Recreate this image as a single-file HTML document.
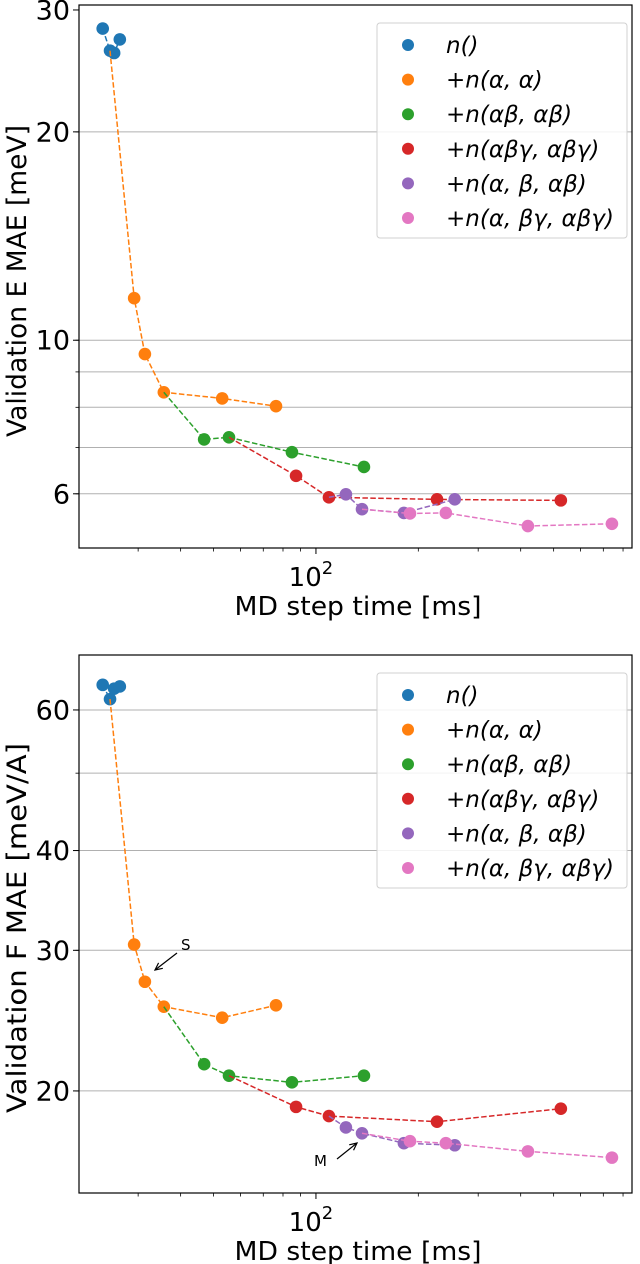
<!DOCTYPE html>
<html><head><meta charset="utf-8"><style>
html,body{margin:0;padding:0;background:#fff;}
svg{display:block;font-family:"DejaVu Sans","Liberation Sans",sans-serif;}
</style></head><body>
<svg id="chart" width="640" height="1264" viewBox="0 0 640 1264" xmlns="http://www.w3.org/2000/svg"></svg>
<script>
// Series names and colors
const seriesNames = ["n()", "+n(α, α)", "+n(αβ, αβ)", "+n(αβγ, αβγ)", "+n(α, β, αβ)", "+n(α, βγ, αβγ)"];
const seriesColors = ["#1f77b4", "#ff7f0e", "#2ca02c", "#d62728", "#9467bd", "#e377c2"];
// MD step time (ms) per series
const xBlue = [23.6, 24.8, 25.5, 26.5];
const xOrange = [24.8, 29.2, 31.4, 35.7, 53.0, 76.3];
const xGreen = [35.7, 46.9, 55.5, 85.0, 138.4];
const xRed = [55.5, 87.4, 109.2, 227, 525];
const xPurple = [109.2, 122.5, 136.6, 181.4, 256];
const xPink = [136.6, 189, 241, 420, 742];
// Energy MAE (meV)
const eBlue = [28.2, 26.2, 26.0, 27.2];
const eOrange = [26.2, 11.5, 9.55, 8.41, 8.24, 8.03];
const eGreen = [8.41, 7.19, 7.24, 6.89, 6.56];
const eRed = [7.24, 6.37, 5.93, 5.89, 5.87];
const ePurple = [5.93, 5.99, 5.70, 5.63, 5.89];
const ePink = [5.70, 5.62, 5.63, 5.39, 5.43];
// Force MAE (meV/A)
const fBlue = [64.5, 61.9, 63.8, 64.2];
const fOrange = [61.9, 30.5, 27.4, 25.5, 24.7, 25.6];
const fGreen = [25.5, 21.6, 20.9, 20.5, 20.9];
const fRed = [20.9, 19.1, 18.6, 18.3, 19.0];
const fPurple = [18.6, 18.0, 17.7, 17.2, 17.1];
const fPink = [17.7, 17.3, 17.2, 16.8, 16.5];
// Ticks
const eTickLabels = [30, 20, 10, 6];
const eGrid = [20, 10, 9, 8, 7, 6];
const fTickLabels = [60, 40, 30, 20];
const fGrid = [60, 50, 40, 30, 20];
const xMinor = [30, 40, 50, 60, 70, 80, 90, 200, 300, 400, 500, 600, 700, 800];

const NS = "http://www.w3.org/2000/svg";
const svg = document.getElementById("chart");
function mk(tag, attrs, parent) {
  const e = document.createElementNS(NS, tag);
  for (const k in attrs) e.setAttribute(k, attrs[k]);
  (parent || svg).appendChild(e);
  return e;
}
const L = 79, R = 632;
const xMin = 20.1, xMax = 850;
function xs(v) { return L + (Math.log10(v) - Math.log10(xMin)) / (Math.log10(xMax) - Math.log10(xMin)) * (R - L); }

function panel(cfg) {
  const g = mk("g", {});
  
  
  const T = cfg.top, B = cfg.bottom;
  const ly0 = Math.log10(cfg.ymin), ly1 = Math.log10(cfg.ymax);
  const ys = v => B - (Math.log10(v) - ly0) / (ly1 - ly0) * (B - T);
  cfg.grid.forEach(v => {
    const ln = mk("line", {x1: L, x2: R, y1: ys(v), y2: ys(v), stroke: "#b0b0b0", "stroke-width": 1}, g);
    
    
    mk("line", {x1: L - 3.5, x2: L, y1: ys(v), y2: ys(v), stroke: "#000", "stroke-width": 0.8}, g);
  });
  cfg.ticks.forEach(v => {
    mk("line", {x1: L - 6, x2: L, y1: ys(v), y2: ys(v), stroke: "#000", "stroke-width": 1}, g);
    const t = mk("text", {x: L - 9, y: ys(v) + 9.5, "text-anchor": "end", "font-size": 27}, g);
    t.textContent = v;
    
    
  });
  xMinor.forEach(v => mk("line", {x1: xs(v), x2: xs(v), y1: B, y2: B + 3.5, stroke: "#000", "stroke-width": 0.8}, g));
  mk("line", {x1: xs(100), x2: xs(100), y1: B, y2: B + 6, stroke: "#000", "stroke-width": 1}, g);
  const xt = mk("text", {x: xs(100) - 5, y: B + 38, "text-anchor": "middle", "font-size": 26}, g);
  xt.innerHTML = '10<tspan dy="-12" font-size="18">2</tspan>';
  
  
  const xl = mk("text", {x: 358, y: B + 67, "text-anchor": "middle", "font-size": 26, textLength: 247, lengthAdjust: "spacingAndGlyphs"}, g);
  xl.textContent = "MD step time [ms]";
  
  
  const yl = mk("text", {x: 0, y: 0, "text-anchor": "middle", "font-size": 27, textLength: cfg.ylen, lengthAdjust: "spacingAndGlyphs", transform: `translate(26,${cfg.ymid}) rotate(-90)`}, g);
  yl.textContent = cfg.ylabel;
  
  
  cfg.xsData.forEach((xd, i) => {
    const yd = cfg.ysData[i];
    const pts = xd.map((x, j) => xs(x).toFixed(1) + "," + ys(yd[j]).toFixed(1)).join(" ");
    const pl = mk("polyline", {points: pts, fill: "none", stroke: seriesColors[i], "stroke-width": 1.5, "stroke-dasharray": "5.5,2.4"}, g);
    
    
    xd.forEach((x, j) => {
      if (i > 0 && j === 0) return;
      const c = mk("circle", {cx: xs(x), cy: ys(yd[j]), r: 6.3, fill: seriesColors[i]}, g);
      
      
    });
  });
  mk("rect", {x: L, y: T, width: R - L, height: B - T, fill: "none", stroke: "#000", "stroke-width": 1.2}, g);
  const lg = mk("g", {}, g);
  
  
  const ly = T + 18;
  mk("rect", {x: 377, y: ly, width: 250, height: 215, rx: 3, fill: "#fff", "fill-opacity": 0.85, stroke: "#d0d0d0", "stroke-width": 1}, lg);
  seriesNames.forEach((n, i) => {
    const cy = ly + 22 + i * 34.6;
    const e = mk("g", {}, lg);
    
    
    mk("circle", {cx: 408, cy: cy, r: 6, fill: seriesColors[i]}, e);
    const t = mk("text", {x: 446, y: cy + 8, "font-size": 23, "font-style": "italic"}, e);
    t.textContent = n;
  });
  if (cfg.annots) cfg.annots.forEach(a => {
    const t = mk("text", {x: a.tx, y: a.ty, "font-size": 15}, g);
    t.textContent = a.label;
    
    
    mk("line", {x1: a.x1, y1: a.y1, x2: a.x2, y2: a.y2, stroke: "#000", "stroke-width": 1.2}, g);
    const ang = Math.atan2(a.y2 - a.y1, a.x2 - a.x1);
    const h = 8, w = 0.45;
    const p1 = [a.x2 - h * Math.cos(ang - w), a.y2 - h * Math.sin(ang - w)];
    const p2 = [a.x2 - h * Math.cos(ang + w), a.y2 - h * Math.sin(ang + w)];
    mk("polyline", {points: `${p1} ${a.x2},${a.y2} ${p2}`, fill: "none", stroke: "#000", "stroke-width": 1.2}, g);
  });
}
panel({name: "energy-panel", top: 5, bottom: 548, ymin: 5.01, ymax: 30.5,
  ticks: eTickLabels, grid: eGrid, ylabel: "Validation E MAE [meV]", ylen: 312, ymid: 281,
  xsData: [xBlue, xOrange, xGreen, xRed, xPurple, xPink],
  ysData: [eBlue, eOrange, eGreen, eRed, ePurple, ePink]});
panel({name: "force-panel", top: 655, bottom: 1193, ymin: 14.9, ymax: 70.3,
  ticks: fTickLabels, grid: fGrid, ylabel: "Validation F MAE [meV/A]", ylen: 370, ymid: 928,
  xsData: [xBlue, xOrange, xGreen, xRed, xPurple, xPink],
  ysData: [fBlue, fOrange, fGreen, fRed, fPurple, fPink],
  annots: [{label: "S", tx: 181, ty: 950, x1: 177, y1: 953, x2: 155, y2: 970},
           {label: "M", tx: 314, ty: 1166, x1: 337, y1: 1159, x2: 357, y2: 1143}]});
</script>
</body></html>
